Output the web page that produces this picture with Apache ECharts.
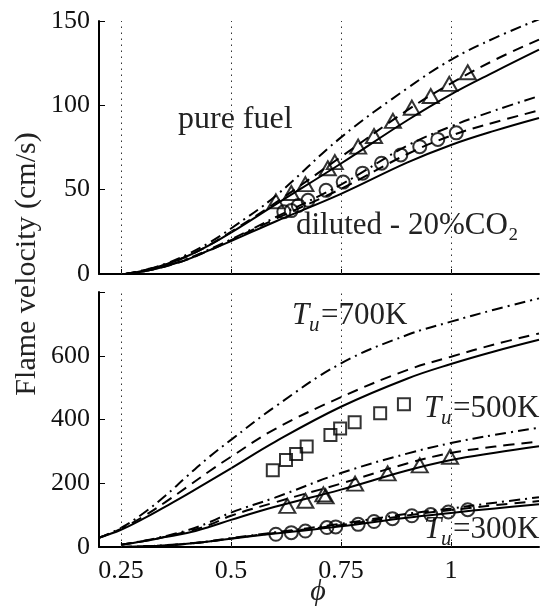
<!DOCTYPE html>
<html>
<head>
<meta charset="utf-8">
<script src="https://cdn.jsdelivr.net/npm/echarts@6/dist/echarts.min.js"></script>
<style>
  html, body { margin: 0; padding: 0; background: #fff; }
  #graph { width: 545px; height: 613px; }
</style>
</head>
<body>
<div id="graph"></div>
<script>
// top panel: pure fuel vs diluted (20% CO2)
const phiTop = [0.26, 0.3, 0.35, 0.4, 0.45, 0.5, 0.6, 0.75, 0.9, 1.0, 1.1, 1.2];
const pureSolid = [0, 2, 5.5, 10.5, 17, 24.5, 41, 65.5, 91, 106.5, 120, 133];
const pureDash = [0, 2, 5.5, 10.5, 17, 25, 42, 69.5, 97, 113, 127, 139];
const pureDashDot = [0, 2.2, 6, 11.5, 18.5, 27, 46, 81, 110, 127, 140, 151];
const dilSolid = [0, 1.5, 4.5, 8.5, 14, 19.5, 31, 47.5, 66, 76.5, 85, 92.5];
const dilDash = [0, 1.5, 4.5, 8.5, 14, 20, 32.5, 50.5, 71, 82, 90, 97];
const dilDashDot = [0, 1.6, 4.7, 9, 14.5, 20.5, 33.5, 53, 76, 87.5, 97, 105.5];

const triTopPhi = [0.602, 0.637, 0.669, 0.720, 0.736, 0.789, 0.825, 0.868, 0.911, 0.954, 0.996, 1.038];
const triTopV = [43.1, 48.0, 53.3, 62.7, 66.3, 75.5, 81.8, 90.8, 98.6, 105.5, 112.7, 119.6];
const cirTopPhi = [0.620, 0.637, 0.653, 0.675, 0.716, 0.755, 0.799, 0.842, 0.886, 0.929, 0.970, 1.012];
const cirTopV = [36.9, 37.6, 40.6, 43.7, 49.6, 54.5, 59.8, 65.7, 70.6, 75.5, 79.8, 83.7];

// bottom panel: unburnt temperature 300K / 500K / 700K
const phi700 = [0.2, 0.25, 0.3, 0.35, 0.4, 0.45, 0.5, 0.6, 0.75, 0.9, 1.0, 1.1, 1.2];
const t700Solid = [29, 54, 88, 126, 165, 206, 247, 330, 440, 528, 574, 614, 650];
const t700Dash = [29, 57, 95, 140, 188, 237, 283, 370, 470, 555, 597, 636, 670];
const t700DashDot = [29, 60, 105, 160, 222, 282, 336, 440, 576, 665, 707, 745, 780];

const phiLow = [0.25, 0.3, 0.35, 0.4, 0.45, 0.5, 0.6, 0.75, 0.9, 1.0, 1.1, 1.2];
const t500Solid = [7, 18, 31, 44, 63, 85, 126, 180, 240, 273, 296, 316];
const t500Dash = [7, 18, 32, 48, 69, 98, 140, 199, 262, 295, 315, 331];
const t500DashDot = [7, 19, 34, 52, 77, 108, 155, 232, 293, 326, 352, 374];
const t300Solid = [0, 2, 5, 10, 17, 26, 42, 65, 92, 107, 121, 134];
const t300Dash = [0, 2, 5, 10, 17, 27, 44, 69, 99, 116, 131, 144];
const t300DashDot = [0, 2, 5.5, 11, 18, 28, 46, 73, 104, 121, 139, 156];

const sqPhi = [0.595, 0.625, 0.648, 0.672, 0.726, 0.748, 0.781, 0.839, 0.893];
const sqV = [241, 273, 292, 315, 351, 372, 391, 420, 448];
const triBotPhi = [0.628, 0.669, 0.710, 0.715, 0.782, 0.856, 0.929, 0.998];
const triBotV = [129, 145, 165, 159, 199, 231, 256, 283];
const cirBotPhi = [0.602, 0.637, 0.669, 0.718, 0.738, 0.789, 0.825, 0.867, 0.911, 0.954, 0.994, 1.038];
const cirBotV = [40, 45, 50, 61, 63, 71, 80, 89, 98, 102, 110, 117];

const phiTicks = [0.25, 0.5, 0.75, 1];

const FONT = 'Liberation Serif';
const INK = '#111';
const DASH = [11, 7];
const DASHDOT = [11, 5, 2, 5];

function zip(xs, ys) {
  return xs.map((x, i) => [x, ys[i]]);
}

function curve(idx, xs, ys, type) {
  return {
    type: 'line',
    xAxisIndex: idx,
    yAxisIndex: idx,
    data: zip(xs, ys),
    smooth: 0.4,
    showSymbol: false,
    lineStyle: { color: '#000', width: 2, type: type },
    z: 3
  };
}

function marks(idx, xs, ys, symbol, size) {
  return {
    type: 'scatter',
    xAxisIndex: idx,
    yAxisIndex: idx,
    data: zip(xs, ys),
    symbol: symbol,
    symbolSize: size,
    itemStyle: { color: 'rgba(0,0,0,0)', borderColor: '#000', borderWidth: 2 },
    z: 4
  };
}

function gridLines(idx) {
  return {
    type: 'line',
    xAxisIndex: idx,
    yAxisIndex: idx,
    data: [],
    markLine: {
      silent: true,
      symbol: ['none', 'none'],
      label: { show: false },
      lineStyle: { color: '#333', width: 1, type: [1.5, 4.5] },
      data: phiTicks.map((v) => ({ xAxis: v }))
    }
  };
}

function xAxis(idx, labels) {
  return {
    type: 'value',
    gridIndex: idx,
    min: 0.2,
    max: 1.2,
    axisLine: { lineStyle: { color: '#000', width: 2 } },
    axisTick: { show: true, inside: true, length: 5, customValues: phiTicks, lineStyle: { color: '#000', width: 1 } },
    axisLabel: {
      show: labels,
      customValues: phiTicks,
      color: INK,
      fontFamily: FONT,
      fontSize: 26,
      margin: 11
    },
    splitLine: { show: false }
  };
}

function yAxis(idx, max, step) {
  return {
    type: 'value',
    gridIndex: idx,
    min: 0,
    max: max,
    interval: step,
    axisLine: { show: true, lineStyle: { color: '#000', width: 2 } },
    axisTick: { show: true, inside: true, length: 6, lineStyle: { color: '#000', width: 1 } },
    axisLabel: {
      color: INK,
      fontFamily: FONT,
      fontSize: 26,
      margin: 9,
      formatter: (v) => (v === 800 ? '' : String(v))
    },
    splitLine: { show: false }
  };
}

function label(x, y, text, size, extra) {
  return {
    type: 'text',
    x: x,
    y: y,
    style: Object.assign({
      text: text,
      fill: '#222',
      font: size + 'px "' + FONT + '"',
      textAlign: 'left',
      textVerticalAlign: 'middle'
    }, extra || {})
  };
}

function tempLabel(x, y, rest) {
  return [
    label(x, y, 'T', 31, { font: 'italic 31px "' + FONT + '"' }),
    label(x + 17, y + 9, 'u', 21, { font: 'italic 21px "' + FONT + '"' }),
    label(x + 29, y, rest, 31)
  ];
}

const option = {
  animation: false,
  backgroundColor: '#fff',
  grid: [
    { left: 99, right: 6, top: 21, height: 253 },
    { left: 99, right: 6, top: 292, height: 255 }
  ],
  xAxis: [xAxis(0, false), xAxis(1, true)],
  yAxis: [yAxis(0, 150, 50), yAxis(1, 800, 200)],
  series: [
    gridLines(0),
    gridLines(1),
    curve(0, phiTop, pureSolid, 'solid'),
    curve(0, phiTop, pureDash, DASH),
    curve(0, phiTop, pureDashDot, DASHDOT),
    curve(0, phiTop, dilSolid, 'solid'),
    curve(0, phiTop, dilDash, DASH),
    curve(0, phiTop, dilDashDot, DASHDOT),
    marks(0, triTopPhi, triTopV, 'triangle', [16, 14]),
    marks(0, cirTopPhi, cirTopV, 'circle', 13),
    curve(1, phi700, t700Solid, 'solid'),
    curve(1, phi700, t700Dash, DASH),
    curve(1, phi700, t700DashDot, DASHDOT),
    curve(1, phiLow, t500Solid, 'solid'),
    curve(1, phiLow, t500Dash, DASH),
    curve(1, phiLow, t500DashDot, DASHDOT),
    curve(1, phiLow, t300Solid, 'solid'),
    curve(1, phiLow, t300Dash, DASH),
    curve(1, phiLow, t300DashDot, DASHDOT),
    marks(1, sqPhi, sqV, 'rect', 12),
    marks(1, triBotPhi, triBotV, 'triangle', [16, 14]),
    marks(1, cirBotPhi, cirBotV, 'circle', 13)
  ],
  graphic: [
    label(178, 120, 'pure fuel', 32),
    label(296, 226, 'diluted - 20%CO\u2082', 31),
    ...tempLabel(292, 316, '=700K'),
    ...tempLabel(424, 409, '=500K'),
    ...tempLabel(424, 530, '=300K'),
    label(318, 592, '\u03d5', 30, { font: 'italic 30px "' + FONT + '"', textAlign: 'center' }),
    {
      type: 'text',
      x: 27,
      y: 264,
      rotation: Math.PI / 2,
      style: {
        text: 'Flame velocity (cm/s)',
        fill: '#222',
        font: '30px "' + FONT + '"',
        textAlign: 'center',
        textVerticalAlign: 'middle'
      }
    }
  ]
};

const chart = echarts.init(document.getElementById('graph'));
chart.setOption(option);
</script>
</body>
</html>
